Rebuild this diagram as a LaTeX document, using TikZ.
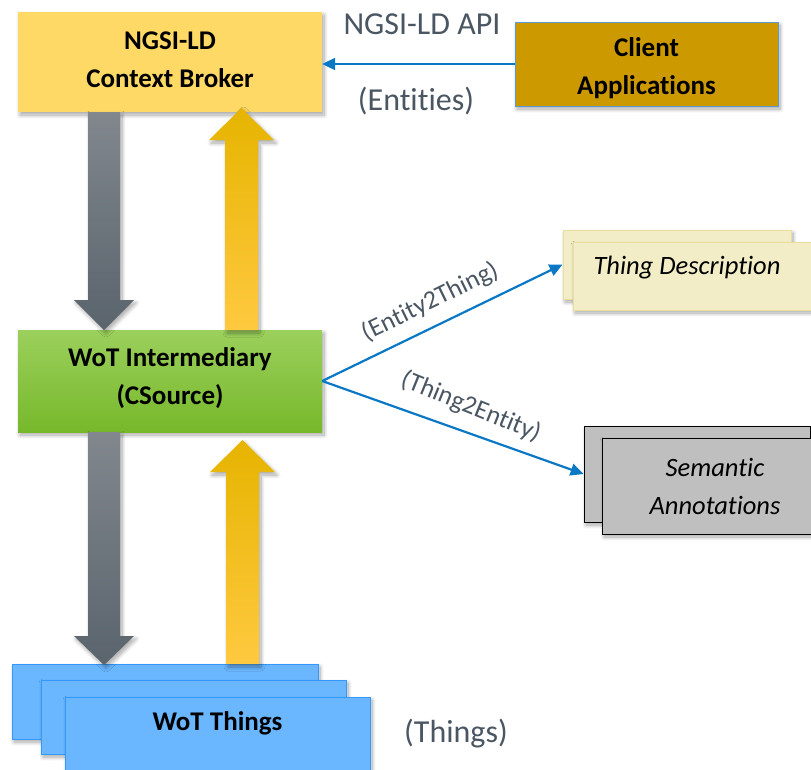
\documentclass[tikz,border=0pt]{standalone}
\usepackage{fontspec}
\setmainfont{Carlito}[Ligatures=NoCommon]
\usetikzlibrary{shadows,shadows.blur,arrows.meta}

\definecolor{brokerfill}{HTML}{FFD966}
\definecolor{clientfill}{HTML}{CC9900}
\definecolor{clientline}{HTML}{5B9BD5}
\definecolor{greentop}{HTML}{9BD05C}
\definecolor{greenbot}{HTML}{77B82B}
\definecolor{thingfill}{HTML}{6AB7FF}
\definecolor{thingline}{HTML}{3399FF}
\definecolor{tdfill}{HTML}{F2EDC6}
\definecolor{tdline}{HTML}{E8DE9E}
\definecolor{semfill}{HTML}{BFBFBF}
\definecolor{linkblue}{HTML}{0A78C4}
\definecolor{labelgray}{HTML}{4A5662}
\definecolor{graytop}{HTML}{81878D}
\definecolor{graybot}{HTML}{5A646D}
\definecolor{goldtop}{HTML}{E6B400}
\definecolor{goldmid}{HTML}{FFC000}
\definecolor{goldbot}{HTML}{FFC940}

\tikzset{
  softshadow/.style={blur shadow={shadow xshift=2pt,shadow yshift=-3pt,shadow blur radius=4pt,shadow blur steps=8,shadow opacity=35}},
  box/.style={rectangle,inner sep=0pt,align=center,softshadow},
  boldtext/.style={font=\fontsize{27}{38.5}\selectfont\bfseries,align=center},
  conn/.style={draw=linkblue,line width=2.2pt,-{Triangle[length=13pt,width=12pt]}},
  note/.style={text=labelgray,font=\fontsize{32}{36}\selectfont,inner sep=0pt},
  slanted/.style={text=labelgray,font=\fontsize{26}{30}\selectfont,inner sep=0pt},
  cardtext/.style={font=\fontsize{26.5}{38}\selectfont\itshape},
  graybar/.style={top color=graytop,bottom color=graybot,softshadow},
  goldbar/.style={top color=goldtop,middle color=goldmid,bottom color=goldbot,softshadow}
}

\begin{document}
\begin{tikzpicture}[x=1pt,y=-1pt]
\useasboundingbox (0,0) rectangle (811,769);

% context broker and client applications
\node[box,boldtext,fill=brokerfill,minimum width=304pt,minimum height=100pt] (broker) at (170,62) {NGSI-LD\\Context Broker\vphantom{p}};
\node[box,fill=clientfill,draw=clientline,line width=0.8pt,minimum width=263pt,minimum height=84pt] (client) at (646.5,64) {};
\node[boldtext,inner sep=0pt] (clienttext) at (646.5,68) {Client\\Applications};
\draw[conn] (client.west) -- (client.west -| broker.east);
\node[note] (api) at (422,24) {NGSI-LD API};
\node[note] (entities) at (416,101) {(Entities)};

% intermediary
\node[box,top color=greentop,bottom color=greenbot,minimum width=304pt,minimum height=102pt] (inter) at (170,381) {};
\node[boldtext,inner sep=0pt] (intertext) at (170,378) {WoT Intermediary\\(CSource)};

% stacked things
\node[box,fill=thingfill,draw=thingline,line width=1pt,minimum width=306pt,minimum height=75pt] (things1) at (165,701.5) {};
\node[box,fill=thingfill,draw=thingline,line width=1pt,minimum width=305pt,minimum height=74pt] (things2) at (193.5,717) {};
\node[box,fill=thingfill,draw=thingline,line width=1pt,minimum width=305pt,minimum height=74pt] (things3) at (217.5,734) {};
\node[boldtext,inner sep=0pt] (thingstext) at (217.5,723) {WoT Things};
\node[note] (thingsnote) at (456,734) {(Things)};

% thing description cards
\node[box,fill=tdfill,draw=tdline,line width=1pt,minimum width=228pt,minimum height=69pt] (tdback) at (677,264.5) {};
\node[box,fill=tdfill,draw=tdline,line width=1pt,minimum width=250pt,minimum height=68pt] (tdfront) at (698,276) {};
\node[cardtext,inner sep=0pt] (tdtext) at (687,268) {Thing Description};

% semantic annotation cards
\node[box,fill=semfill,draw=black,line width=0.8pt,minimum width=226pt,minimum height=96pt] (semback) at (697,474) {};
\node[box,cardtext,fill=semfill,draw=black,line width=0.8pt,minimum width=226pt,minimum height=96pt] (semfront) at (715,486) {Semantic\\Annotations};

% block arrows between broker, intermediary and things
\shade[graybar] (88,112) -- (120,112) -- (120,300) -- (134,300) -- (104,330) -- (74,300) -- (88,300) -- cycle;
\shade[goldbar] (225,330) -- (258,330) -- (258,140) -- (274,140) -- (241.5,108) -- (209,140) -- (225,140) -- cycle;
\shade[graybar] (88,432) -- (120,432) -- (120,636) -- (134,636) -- (104,665) -- (74,636) -- (88,636) -- cycle;
\shade[goldbar] (226,664) -- (259,664) -- (259,472) -- (275,472) -- (242.5,440) -- (210,472) -- (226,472) -- cycle;

% mapping links
\draw[conn] (inter.east) -- (tdback.west);
\draw[conn] (inter.east) -- (semback.west);
\node[slanted,rotate=26] (e2t) at (430,302) {(Entity2Thing)};
\node[slanted,rotate=-22] (t2e) at (471,407) {(Thing2Entity)};
\end{tikzpicture}
\end{document}
